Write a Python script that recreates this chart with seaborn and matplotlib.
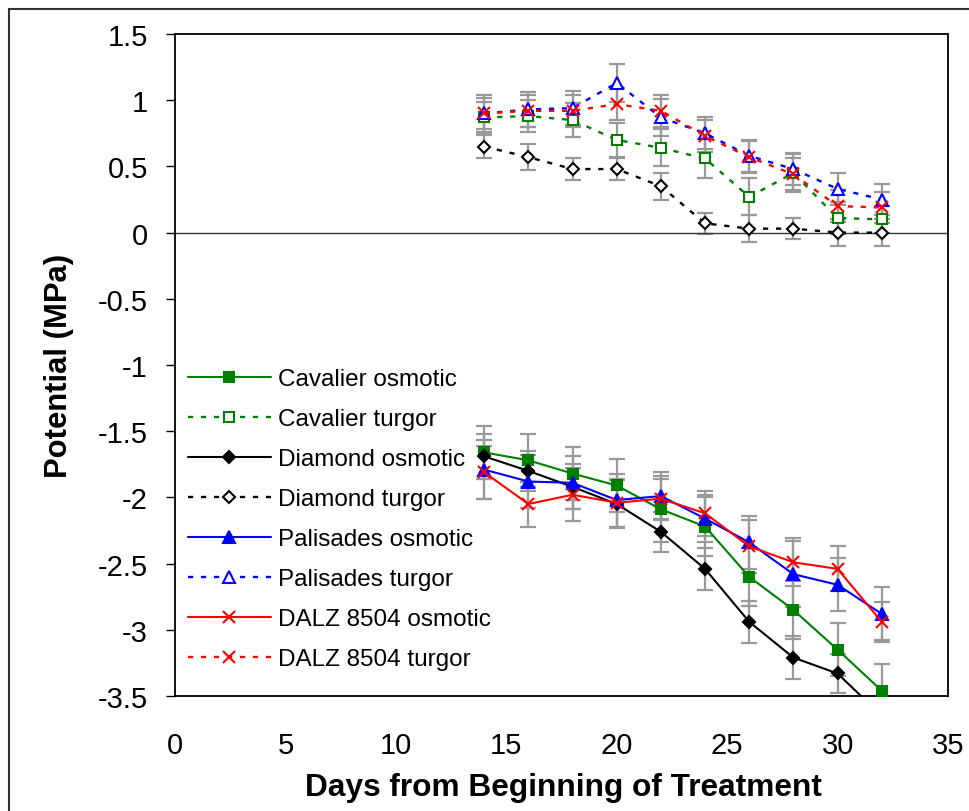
import numpy as np
import pandas as pd
import seaborn as sns
import matplotlib.pyplot as plt
from matplotlib.patches import Rectangle

days = [14, 16, 18, 20, 22, 24, 26, 28, 30, 32]

# osmotic potential (MPa)
cav_osm = [-1.66, -1.72, -1.82, -1.91, -2.09, -2.22, -2.60, -2.85, -3.15, -3.46]
dia_osm = [-1.69, -1.80, -1.92, -2.05, -2.26, -2.54, -2.94, -3.21, -3.33, -3.65]
pal_osm = [-1.79, -1.88, -1.89, -2.02, -1.99, -2.16, -2.34, -2.58, -2.66, -2.88]
dalz_osm = [-1.81, -2.05, -1.98, -2.04, -2.01, -2.12, -2.37, -2.49, -2.54, -2.94]

# turgor potential (MPa)
cav_tur = [0.87, 0.88, 0.85, 0.70, 0.64, 0.56, 0.27, 0.45, 0.11, 0.10]
dia_tur = [0.65, 0.57, 0.48, 0.48, 0.35, 0.07, 0.03, 0.03, 0.00, 0.00]
pal_tur = [0.90, 0.93, 0.94, 1.13, 0.87, 0.75, 0.58, 0.48, 0.33, 0.25]
dalz_tur = [0.90, 0.92, 0.92, 0.97, 0.92, 0.73, 0.57, 0.44, 0.20, 0.19]

# standard errors
cav_osm_err = [0.20, 0.20, 0.20, 0.20, 0.25, 0.22, 0.22, 0.22, 0.20, 0.20]
dia_osm_err = [0.17, 0.15, 0.17, 0.18, 0.15, 0.16, 0.16, 0.16, 0.15, 0.15]
pal_osm_err = [0.22, 0.20, 0.20, 0.20, 0.18, 0.18, 0.20, 0.25, 0.20, 0.20]
dalz_osm_err = [0.20, 0.17, 0.20, 0.18, 0.15, 0.17, 0.20, 0.18, 0.17, 0.15]
cav_tur_err = [0.12, 0.12, 0.13, 0.13, 0.14, 0.15, 0.14, 0.14, 0.12, 0.10]
dia_tur_err = [0.09, 0.10, 0.08, 0.08, 0.10, 0.08, 0.10, 0.08, 0.10, 0.10]
pal_tur_err = [0.14, 0.13, 0.13, 0.14, 0.14, 0.12, 0.12, 0.12, 0.12, 0.12]
dalz_tur_err = [0.12, 0.12, 0.12, 0.12, 0.12, 0.12, 0.12, 0.12, 0.12, 0.12]

sns.set_style("white")
plt.rcParams['font.family'] = ['Liberation Sans', 'DejaVu Sans']
plt.rcParams['text.color'] = 'black'
plt.rcParams['xtick.color'] = 'black'
plt.rcParams['ytick.color'] = 'black'

fig = plt.figure(figsize=(9.7, 8.12), dpi=100)
ax = fig.add_axes([175 / 970, 1 - 697 / 812, 773 / 970, 662 / 812])

# (label, values, errors, color, marker, filled, dotted)
series = [
    ("Cavalier osmotic", cav_osm, cav_osm_err, "#008000", "s", True, False),
    ("Cavalier turgor", cav_tur, cav_tur_err, "#008000", "s", False, True),
    ("Diamond osmotic", dia_osm, dia_osm_err, "black", "D", True, False),
    ("Diamond turgor", dia_tur, dia_tur_err, "black", "D", False, True),
    ("Palisades osmotic", pal_osm, pal_osm_err, "#0000FF", "^", True, False),
    ("Palisades turgor", pal_tur, pal_tur_err, "#0000FF", "^", False, True),
    ("DALZ 8504 osmotic", dalz_osm, dalz_osm_err, "#FF0000", "x", True, False),
    ("DALZ 8504 turgor", dalz_tur, dalz_tur_err, "#FF0000", "x", False, True),
]

msize = {"s": 7.5, "D": 6.5, "^": 8, "x": 9}

for label, vals, err, col, mk, filled, dotted in series:
    ax.errorbar(days, vals, yerr=err, fmt='none', ecolor='#999999',
                elinewidth=1.6, capsize=6, capthick=1.6, zorder=1)

for i, (label, vals, err, col, mk, filled, dotted) in enumerate(series):
    df = pd.DataFrame({"day": days, "val": vals})
    sns.lineplot(data=df, x="day", y="val", ax=ax, color=col, label=label,
                 marker=mk, markersize=msize[mk],
                 markerfacecolor=col if (filled or mk == "x") else "white",
                 markeredgecolor=col, markeredgewidth=1.5,
                 linewidth=1.5 if not dotted else 1.7,
                 linestyle=(0, (2.2, 3.3)) if dotted else "-",
                 zorder=3 + i)

ax.axhline(0, color='#333333', lw=1, zorder=2)

ax.set_xlim(0, 35)
ax.set_ylim(-3.5, 1.5)
ax.set_xticks(np.arange(0, 36, 5))
ax.set_yticks(np.arange(-3.5, 1.51, 0.5))
ax.set_yticklabels([f"{v:g}" for v in np.arange(-3.5, 1.51, 0.5)])
ax.tick_params(axis='y', direction='out', length=6.5, width=1, color='black',
               labelsize=21, pad=13, left=True)
ax.tick_params(axis='x', length=0, labelsize=21, pad=25)
for sp in ax.spines.values():
    sp.set_visible(True)
    sp.set_color('black')
    sp.set_linewidth(1.3)

ax.set_xlabel("")
ax.set_ylabel("")
fig.text(563 / 970, 1 - 788 / 812, "Days from Beginning of Treatment",
         ha='center', va='center', fontsize=22.8, fontweight='bold')
fig.text(59 / 970, 1 - 366 / 812, "Potential (MPa)", rotation=90,
         ha='center', va='center', fontsize=22.3, fontweight='bold')

handles, labels = ax.get_legend_handles_labels()
ax.legend(handles, labels, loc='upper left', frameon=False,
          bbox_to_anchor=(188 / 970, 1 - 369 / 812), bbox_transform=fig.transFigure,
          fontsize=17.5, handlelength=3.4, handletextpad=0.3, labelspacing=0.74,
          borderpad=0, borderaxespad=0)

# outer chart border
fig.patches.append(Rectangle((9 / 970, -0.5), 2, 1.5 - 10 / 812,
                             transform=fig.transFigure, fill=False,
                             lw=1.5, ec='#333333'))

fig.savefig("out.png", dpi=100)
